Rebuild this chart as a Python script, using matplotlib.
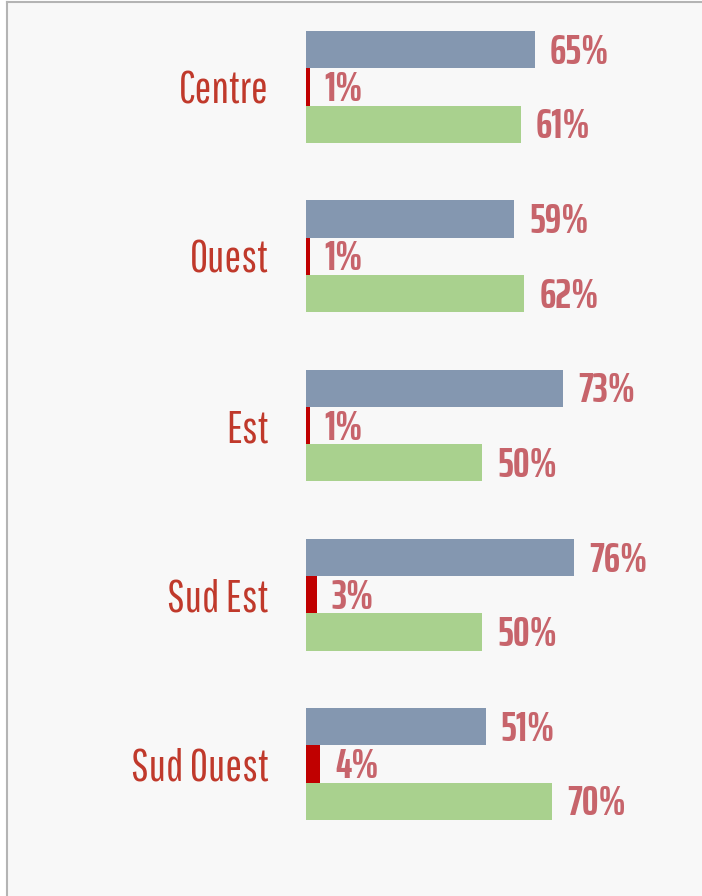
import matplotlib
matplotlib.use("Agg")
import matplotlib.pyplot as plt
from matplotlib.lines import Line2D

regions = ["Centre", "Ouest", "Est", "Sud Est", "Sud Ouest"]
serie_bleue = [65, 59, 73, 76, 51]
serie_rouge = [1, 1, 1, 3, 4]
serie_verte = [61, 62, 50, 50, 70]

bleu = "#8497b0"
rouge = "#c00000"
vert = "#a9d18e"
col_valeur = "#c7646b"
col_region = "#c0392b"
fond = "#f8f8f8"

police_region = ["Pathway Gothic One", "Oswald", "DejaVu Sans"]
police_valeur = ["Saira ExtraCondensed", "Squada One", "DejaVu Sans"]

fig = plt.figure(figsize=(7.02, 8.96), dpi=100)
fig.patch.set_facecolor("white")
# fond gris clair avec cadre en haut et a gauche
fig.patches.append(plt.Rectangle((7 / 702, 0), 1, 1 - 2 / 896, transform=fig.transFigure,
                                 facecolor=fond, edgecolor="none", zorder=-10))
fig.add_artist(Line2D([7 / 702, 7 / 702], [0, 1 - 2 / 896], color="#b4b4b4", lw=1.5))
fig.add_artist(Line2D([7 / 702, 1], [1 - 2 / 896, 1 - 2 / 896], color="#b4b4b4", lw=1.5))

ax = fig.add_axes([306 / 702, 47.25 / 896, 352 / 702, 846.5 / 896])
ax.set_facecolor("none")

y = list(range(len(regions)))
h = 0.22
ax.barh([v - h for v in y], serie_bleue, height=h, color=bleu)
ax.barh(y, serie_rouge, height=h, color=rouge)
ax.barh([v + h for v in y], serie_verte, height=h, color=vert)

for serie, dy in [(serie_bleue, -h), (serie_rouge, 0), (serie_verte, h)]:
    for i, v in enumerate(serie):
        ax.annotate(f"{v}%", (v, i + dy), xytext=(11, -1.5), textcoords="offset points",
                    va="center", ha="left", fontsize=30, fontweight="bold",
                    color=col_valeur, family=police_valeur)

ax.set_xlim(0, 100)
ax.set_ylim(4.5, -0.5)
ax.set_yticks(y)
ax.set_yticklabels(regions, fontsize=32, color=col_region, family=police_region)
ax.tick_params(axis="y", length=0, pad=27)
ax.set_xticks([])
for s in ax.spines.values():
    s.set_visible(False)

fig.savefig("out.png", dpi=100)
